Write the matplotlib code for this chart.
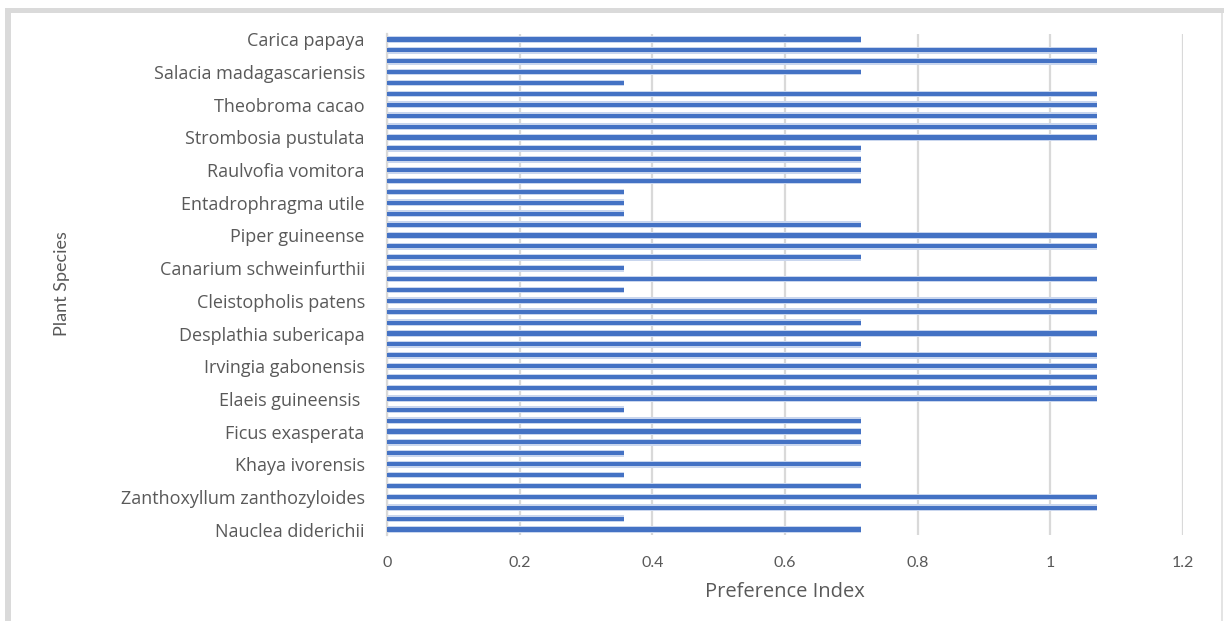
import numpy as np
import matplotlib
matplotlib.use("Agg")
import matplotlib.pyplot as plt
from matplotlib.patches import Rectangle

# Species shown on the axis (every third category, bottom to top)
species = [
    "Nauclea diderichii",
    "Zanthoxyllum zanthozyloides",
    "Khaya ivorensis",
    "Ficus exasperata",
    "Elaeis guineensis ",
    "Irvingia gabonensis",
    "Desplathia subericapa",
    "Cleistopholis patens",
    "Canarium schweinfurthii",
    "Piper guineense",
    "Entadrophragma utile",
    "Raulvofia vomitora",
    "Strombosia pustulata",
    "Theobroma cacao",
    "Salacia madagascariensis",
    "Carica papaya",
]

# Preference index for all 46 bars, bottom to top
preference = [
    0.714, 0.357, 1.071, 1.071, 0.714, 0.357, 0.714, 0.357,
    0.714, 0.714, 0.714, 0.357, 1.071, 1.071, 1.071, 1.071,
    1.071, 0.714, 1.071, 0.714, 1.071, 1.071, 0.357, 1.071,
    0.357, 0.714, 1.071, 1.071, 0.714, 0.357, 0.357, 0.357,
    0.714, 0.714, 0.714, 0.714, 1.071, 1.071, 1.071, 1.071,
    1.071, 0.357, 0.714, 1.071, 1.071, 0.714,
]

label_step = 3
x_ticks = [0, 0.2, 0.4, 0.6, 0.8, 1, 1.2]
x_tick_labels = ["0", "0.2", "0.4", "0.6", "0.8", "1", "1.2"]

plt.rcParams["font.family"] = ["Lato", "DejaVu Sans"]
wide_font = ["Open Sans", "DejaVu Sans"]
text_col = "#595959"
grid_col = "#d9d9d9"

W, H = 1224, 621
fig = plt.figure(figsize=(W / 100, H / 100), dpi=100)

# light grey frame strips on the top and left edges
fig.patches.append(Rectangle((5 / W, 0), 6 / W, 1 - 8 / H, transform=fig.transFigure,
                             facecolor="#dadada", edgecolor="none"))
fig.patches.append(Rectangle((5 / W, 1 - 13 / H), 1 - 5 / W, 5 / H, transform=fig.transFigure,
                             facecolor="#dadada", edgecolor="none"))
fig.patches.append(Rectangle((1221 / W, 0), 1.5 / W, 1 - 13 / H, transform=fig.transFigure,
                             facecolor="#e4e4e4", edgecolor="none"))

ax = fig.add_axes([387 / W, 1 - 535 / H, 796 / W, 501 / H])

y = np.arange(len(preference))
ax.barh(y, preference, height=0.62, color="#c9d6ee", zorder=2)
ax.barh(y, preference, height=0.38, color="#4472c4", zorder=3)

ax.set_xlim(0, 1.2)
ax.set_ylim(-0.5, len(preference) - 0.5)
ax.set_xticks(x_ticks)
ax.set_xticklabels(x_tick_labels, fontsize=11.5)
ax.set_yticks(y[::label_step])
ax.set_yticklabels(species, family=wide_font, fontsize=13)

ax.grid(axis="x", color=grid_col, linewidth=1.6, zorder=0)
ax.set_axisbelow(True)
for side in ["top", "right", "bottom"]:
    ax.spines[side].set_visible(False)
ax.spines["left"].set_color(grid_col)
ax.spines["left"].set_linewidth(1.6)

ax.tick_params(axis="both", length=0, colors=text_col)
ax.tick_params(axis="y", pad=16)
ax.tick_params(axis="x", pad=15)

ax.set_xlabel("Preference Index", fontsize=14.5, color=text_col, labelpad=9,
              family=wide_font)
fig.text(62 / W, 1 - 284 / H, "Plant Species", rotation=90, ha="center", va="center",
         fontsize=13, color=text_col)

fig.savefig("out.png", dpi=100)
